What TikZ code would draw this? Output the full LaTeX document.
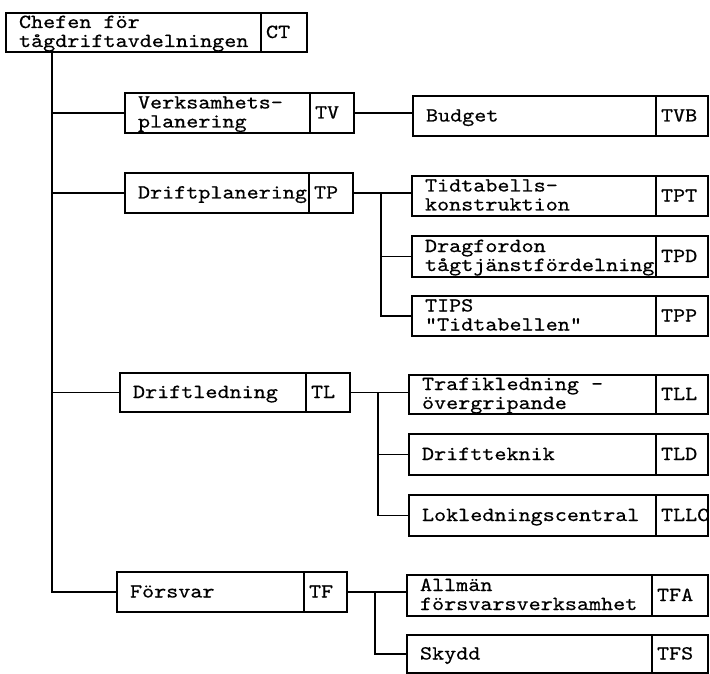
\documentclass[tikz,border=0pt]{standalone}
\usepackage{fontspec}
\newfontfamily\tw{lmmono10-regular.otf}[FakeStretch=1.15,FakeBold=0.5]
\tikzset{
  box/.style={draw, rectangle, line width=1.3pt, inner sep=0pt, outer sep=0pt},
  rule/.style={line width=1.3pt},
  conn/.style={line width=1.3pt},
  lbl/.style={inner sep=0pt, outer sep=0pt, font=\tw\fontsize{20}{20}\selectfont},
}
% name, left, top, right, bottom, divider, code
\newcommand\orgbox[7]{%
  \node[box, minimum width={(#4-#2)*1pt}, minimum height={(#5-#3)*1pt}]
    (#1) at ({(#2+#4)/2},{(#3+#5)/2}) {};
  \draw[rule] (#6,#3) -- (#6,#5);
  \node[lbl, anchor=base west] (#1-c) at (#6+5,{(#3+#5)/2+5.5}) {#7};
}
\newcommand\lblone[2]{%
  \node[lbl, anchor=base west] (#1-t) at ([xshift=13pt,yshift=-5.5pt]#1.west) {#2};
}
\newcommand\lbltwo[3]{%
  \node[lbl, anchor=base west] (#1-t1) at ([xshift=13pt,yshift=4.5pt]#1.west) {#2};
  \node[lbl, anchor=base west] (#1-t2) at ([xshift=13pt,yshift=-14.5pt]#1.west) {#3};
}
\begin{document}
\begin{tikzpicture}[x=1pt,y=-1pt]
\fill[white] (0,0) rectangle (710,674);
\useasboundingbox (0,0) rectangle (710,674);

\orgbox{ct}{6}{13}{307}{52}{261}{CT}
\lbltwo{ct}{Chefen för}{tågdriftavdelningen}

\orgbox{tv}{125}{93}{354}{133}{310}{TV}
\lbltwo{tv}{Verksamhets-}{planering}
\orgbox{tvb}{413}{96}{708}{136}{656}{TVB}
\lblone{tvb}{Budget}

\orgbox{tp}{125}{173}{353}{213}{309}{TP}
\lblone{tp}{Driftplanering}
\orgbox{tpt}{412}{176}{708}{216}{656}{TPT}
\lbltwo{tpt}{Tidtabells-}{konstruktion}
\orgbox{tpd}{412}{236}{708}{277}{656}{TPD}
\lbltwo{tpd}{Dragfordon}{tågtjänstfördelning}
\orgbox{tpp}{412}{296}{708}{336}{656}{TPP}
\lbltwo{tpp}{TIPS}{"Tidtabellen"}

\orgbox{tl}{120}{373}{350}{412}{306}{TL}
\lblone{tl}{Driftledning}
\orgbox{tll}{409}{375}{708}{414}{656}{TLL}
\lbltwo{tll}{Trafikledning -}{övergripande}
\orgbox{tld}{409}{434}{708}{475}{656}{TLD}
\lblone{tld}{Driftteknik}
\orgbox{tllc}{409}{495}{708}{536}{656}{TLLC}
\lblone{tllc}{Lokledningscentral}

\orgbox{tf}{117}{572}{347}{612}{304}{TF}
\lblone{tf}{Försvar}
\orgbox{tfa}{407}{575}{708}{616}{652}{TFA}
\lbltwo{tfa}{Allmän}{försvarsverksamhet}
\orgbox{tfs}{407}{635}{708}{673}{652}{TFS}
\lblone{tfs}{Skydd}

% connectors
\coordinate (trunk) at ([xshift=46pt]ct.south west);
\draw[conn] (trunk) |- (tv.west);
\draw[conn] (trunk) |- (tp.west);
\draw[conn] (trunk) |- (tl.west);
\draw[conn] (trunk) |- (tf.west);

\draw[conn] (tv.east) -- (tv.east -| tvb.west);

\coordinate (tpb) at ([xshift=28pt]tp.east);
\draw[conn] (tp.east) -- (tp.east -| tpt.west);
\draw[conn] (tpb) |- (tpd.west);
\draw[conn] (tpb) |- (tpp.west);

\coordinate (tlb) at ([xshift=28pt]tl.east);
\draw[conn] (tl.east) -- (tl.east -| tll.west);
\draw[conn] (tlb) |- (tld.west);
\draw[conn] (tlb) |- (tllc.west);

\coordinate (tfb) at ([xshift=28pt]tf.east);
\draw[conn] (tf.east) -- (tf.east -| tfa.west);
\draw[conn] (tfb) |- (tfs.west);
\end{tikzpicture}
\end{document}
